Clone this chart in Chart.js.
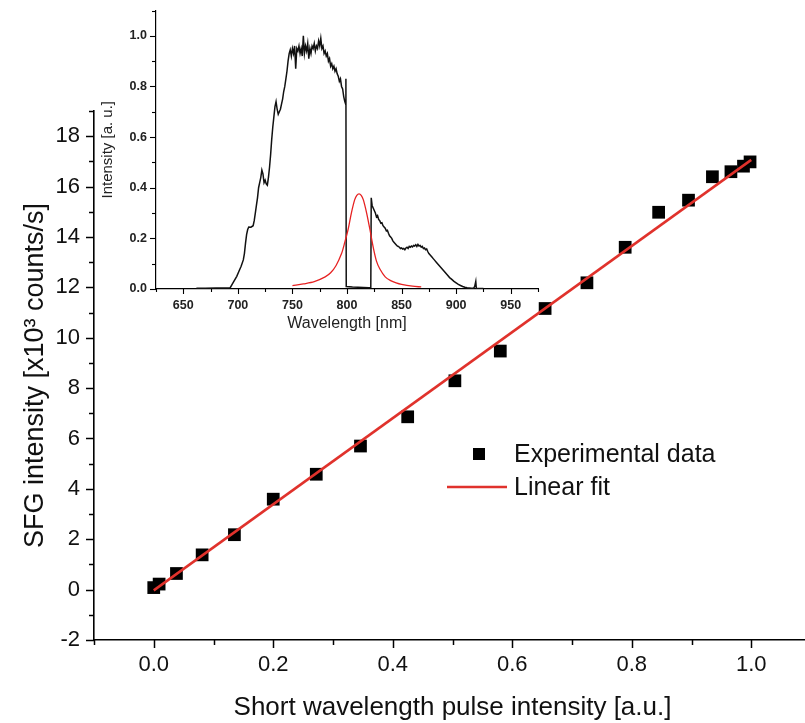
<!DOCTYPE html>
<html>
<head>
<meta charset="utf-8">
<script src="https://cdn.jsdelivr.net/npm/chart.js@4.4.0/dist/chart.umd.min.js"></script>
<style>
  html, body { margin: 0; padding: 0; background: #fff; overflow: hidden; }
  #wrap { position: relative; width: 805px; height: 723px; overflow: hidden; }
  #main, #inset { position: absolute; left: 0; top: 0; }
</style>
</head>
<body>
<div id="wrap">
  <canvas id="main" width="820" height="723"></canvas>
  <canvas id="inset" width="560" height="340"></canvas>
</div>
<script>
// main plot: SFG signal vs short wavelength pulse intensity
const pulseIntensity = [0, 0.009, 0.038, 0.081, 0.135, 0.2, 0.272, 0.346, 0.425, 0.504,
  0.58, 0.655, 0.725, 0.789, 0.845, 0.895, 0.935, 0.966, 0.987, 0.998];
const sfgCounts = [0.08, 0.22, 0.64, 1.38, 2.18, 3.59, 4.58, 5.7, 6.86, 8.29,
  9.47, 11.16, 12.18, 13.59, 14.98, 15.46, 16.39, 16.59, 16.81, 16.98];
const fitX = [0, 1.0];
const fitY = [-0.03, 17.06];

// inset: spectrum [wavelength nm, intensity a.u.]
const spectrum = [
  [662, 0.003], [670, 0.003], [680, 0.004], [690, 0.004], [693, 0.005], [695, 0.02],
  [697, 0.035], [699, 0.05], [701, 0.07], [703, 0.09], [705, 0.115], [706, 0.14],
  [707, 0.18], [708, 0.215], [709, 0.235], [710, 0.245], [712, 0.244], [714, 0.25],
  [715, 0.27], [716, 0.3], [717, 0.33], [718, 0.36], [719, 0.4], [720, 0.42],
  [721, 0.44], [722, 0.47], [723, 0.455], [724, 0.42], [725, 0.43], [726, 0.415],
  [727, 0.41], [728, 0.44], [729, 0.48], [730, 0.53], [731, 0.59], [732, 0.64],
  [733, 0.68], [734, 0.72], [735, 0.74], [736, 0.71], [737, 0.69], [738, 0.7],
  [739, 0.71], [740, 0.73], [741, 0.75], [742, 0.78], [743, 0.8], [744, 0.83],
  [745, 0.86], [746, 0.9], [747, 0.93], [748, 0.945], [749, 0.92], [750, 0.95],
  [751, 0.93], [752, 0.96], [753, 0.87], [754, 0.95], [755, 0.94], [756, 0.96],
  [757, 0.93], [758, 0.95], [759, 0.92], [760, 1.0], [761, 0.93], [762, 0.96],
  [763, 0.94], [764, 0.97], [765, 0.91], [766, 0.95], [767, 0.93], [768, 0.96],
  [769, 0.95], [770, 0.97], [771, 0.94], [772, 0.96], [773, 0.95], [774, 0.98],
  [775, 0.96], [776, 0.99], [777, 0.95], [778, 0.96], [779, 0.93], [780, 0.94],
  [781, 0.92], [782, 0.93], [783, 0.9], [784, 0.91], [785, 0.88], [786, 0.89],
  [787, 0.87], [788, 0.88], [789, 0.86], [790, 0.87], [791, 0.85], [792, 0.84],
  [793, 0.82], [794, 0.83], [795, 0.8], [796, 0.79], [797, 0.76], [798, 0.74],
  [798.8, 0.73], [799, 0.83], [799.3, 0.01], [805, 0.008], [810, 0.007], [815, 0.006],
  [820, 0.005], [821.8, 0.005], [822.2, 0.36], [823, 0.33], [824, 0.32], [825, 0.31],
  [826, 0.3], [827, 0.285], [828, 0.29], [829, 0.275], [830, 0.27], [831, 0.26],
  [832, 0.262], [833, 0.25], [834, 0.245], [835, 0.24], [836, 0.23], [837, 0.232],
  [838, 0.22], [839, 0.21], [840, 0.205], [841, 0.2], [842, 0.19], [843, 0.185],
  [844, 0.18], [845, 0.175], [846, 0.17], [847, 0.168], [848, 0.165], [849, 0.16],
  [850, 0.162], [851, 0.158], [852, 0.16], [853, 0.155], [854, 0.162], [855, 0.165],
  [856, 0.16], [857, 0.168], [858, 0.165], [859, 0.17], [860, 0.166], [861, 0.172],
  [862, 0.17], [863, 0.175], [864, 0.168], [865, 0.176], [866, 0.17], [867, 0.172],
  [868, 0.165], [869, 0.168], [870, 0.16], [871, 0.162], [872, 0.155], [873, 0.158],
  [874, 0.148], [875, 0.14], [876, 0.135], [877, 0.13], [878, 0.125], [879, 0.12],
  [880, 0.115], [882, 0.105], [884, 0.095], [886, 0.085], [888, 0.075], [890, 0.065],
  [892, 0.055], [894, 0.045], [896, 0.038], [898, 0.03], [900, 0.024], [902, 0.018],
  [904, 0.014], [906, 0.01], [908, 0.007], [910, 0.005], [912, 0.004], [914, 0.003],
  [916, 0.003], [917, 0.01], [918, 0.03], [918.5, 0.003], [920, 0.002], [925, 0.002]
];

// inset: red short wavelength pulse spectrum
const pulseWl = [750, 760, 770, 780, 785, 790, 795, 798, 801, 804, 807, 809, 811,
  813, 815, 818, 821, 824, 827, 830, 835, 840, 845, 850, 860, 868];
const pulseInt = [0.013, 0.02, 0.029, 0.048, 0.064, 0.093, 0.14, 0.185, 0.235, 0.3, 0.352, 0.37, 0.376,
  0.37, 0.352, 0.3, 0.235, 0.165, 0.11, 0.08, 0.048, 0.033, 0.024, 0.018, 0.011, 0.008];

const FONT = "'Liberation Sans', Arial, sans-serif";

// draws major/minor tick marks outside the axes
const tickMarks = (cfg) => ({
  id: "tickMarks",
  afterDraw(chart) {
    const ctx = chart.ctx;
    ctx.save();
    ctx.strokeStyle = "#000";
    ctx.lineWidth = cfg.width;
    ["x", "y"].forEach((id) => {
      const scale = chart.scales[id];
      const c = cfg[id];
      scale.ticks.forEach((t) => {
        const major = Math.round(t.value / c.step) % c.every === 0;
        const len = major ? c.major : c.minor;
        const p = Math.round(scale.getPixelForValue(t.value)) + 0.5;
        ctx.beginPath();
        if (id === "x") {
          ctx.moveTo(p, chart.chartArea.bottom);
          ctx.lineTo(p, chart.chartArea.bottom + len);
        } else {
          ctx.moveTo(chart.chartArea.left, p);
          ctx.lineTo(chart.chartArea.left - len, p);
        }
        ctx.stroke();
      });
    });
    ctx.restore();
  },
});

const legendBox = {
  id: "legendBox",
  afterDraw(chart) {
    const ctx = chart.ctx;
    ctx.save();
    ctx.fillStyle = "#000";
    ctx.fillRect(473, 448, 12, 12);
    ctx.strokeStyle = "#e0322c";
    ctx.lineWidth = 2.5;
    ctx.beginPath();
    ctx.moveTo(447, 487);
    ctx.lineTo(507, 487);
    ctx.stroke();
    ctx.font = "25px " + FONT;
    ctx.textBaseline = "middle";
    ctx.fillStyle = "#111";
    ctx.fillText("Experimental data", 514, 455);
    ctx.fillText("Linear fit", 514, 488);
    ctx.restore();
  },
};

new Chart(document.getElementById("main"), {
  type: "scatter",
  data: {
    datasets: [
      {
        label: "Linear fit",
        data: fitX.map((x, i) => ({ x, y: fitY[i] })),
        showLine: true,
        borderColor: "#e0322c",
        borderWidth: 2.5,
        pointRadius: 0,
      },
      {
        label: "Experimental data",
        data: pulseIntensity.map((x, i) => ({ x, y: sfgCounts[i] })),
        pointStyle: "rect",
        pointRadius: 9,
        backgroundColor: "#000",
        borderWidth: 0,
      },
    ],
  },
  options: {
    responsive: false,
    animation: false,
    layout: { padding: { top: 111, right: 8, left: 0, bottom: 0 } },
    scales: {
      x: {
        type: "linear",
        min: -0.1,
        max: 1.1,
        afterFit: (s) => { s.height = 83; },
        border: { color: "#000", width: 1.6 },
        grid: { drawOnChartArea: false, tickLength: 8, tickColor: "transparent" },
        ticks: {
          stepSize: 0.1,
          padding: 4,
          color: "#111",
          font: { family: FONT, size: 22 },
          maxRotation: 0,
          autoSkip: false,
          callback: (v) => (Math.round(v * 10) % 2 === 0 ? (Math.round(v * 10) / 10).toFixed(1) : ""),
        },
        title: {
          display: true,
          text: "Short wavelength pulse intensity [a.u.]",
          color: "#111",
          font: { family: FONT, size: 26 },
          padding: { top: 0, bottom: 0 },
        },
      },
      y: {
        min: -2,
        max: 19,
        afterFit: (s) => { s.width = 94; },
        border: { color: "#000", width: 1.6 },
        grid: { drawOnChartArea: false, tickLength: 8, tickColor: "transparent" },
        ticks: {
          stepSize: 1,
          padding: 6,
          color: "#111",
          font: { family: FONT, size: 22 },
          autoSkip: false,
          callback: (v) => (v % 2 === 0 ? String(v) : ""),
        },
        title: {
          display: true,
          text: "SFG intensity [x10³ counts/s]",
          color: "#111",
          font: { family: FONT, size: 27 },
          padding: { top: 19, bottom: 0 },
        },
      },
    },
    plugins: {
      legend: { display: false },
      tooltip: { enabled: false },
    },
  },
  plugins: [
    tickMarks({ width: 1.5, x: { step: 0.1, every: 2, major: 8, minor: 5 }, y: { step: 1, every: 2, major: 8, minor: 5 } }),
    legendBox,
  ],
});

new Chart(document.getElementById("inset"), {
  type: "scatter",
  data: {
    datasets: [
      {
        data: pulseWl.map((x, i) => ({ x, y: pulseInt[i] })),
        showLine: true,
        borderColor: "#e62222",
        borderWidth: 1.3,
        pointRadius: 0,
        tension: 0.3,
      },
      {
        data: spectrum.map((p) => ({ x: p[0], y: p[1] })),
        showLine: true,
        borderColor: "#111",
        borderWidth: 1.5,
        pointRadius: 0,
      },
    ],
  },
  options: {
    responsive: false,
    animation: false,
    layout: { padding: { top: 8, right: 22, left: 0, bottom: 0 } },
    scales: {
      x: {
        type: "linear",
        min: 625,
        max: 975,
        afterFit: (s) => { s.height = 51; },
        border: { color: "#000", width: 1.2 },
        grid: { drawOnChartArea: false, tickLength: 5, tickColor: "transparent" },
        ticks: {
          stepSize: 25,
          padding: 4,
          color: "#222",
          font: { family: FONT, size: 12.5, weight: "bold" },
          maxRotation: 0,
          autoSkip: false,
          callback: (v) => (v % 50 === 0 ? String(v) : ""),
        },
        title: {
          display: true,
          text: "Wavelength [nm]",
          color: "#222",
          font: { family: FONT, size: 16 },
          padding: { top: 0, bottom: 7 },
        },
      },
      y: {
        min: 0,
        max: 1.1,
        afterFit: (s) => { s.width = 156; },
        border: { color: "#000", width: 1.2 },
        grid: { drawOnChartArea: false, tickLength: 6, tickColor: "transparent" },
        ticks: {
          stepSize: 0.1,
          padding: 3,
          color: "#222",
          font: { family: FONT, size: 12.5, weight: "bold" },
          autoSkip: false,
          callback: (v) => (Math.round(v * 10) % 2 === 0 ? (Math.round(v * 10) / 10).toFixed(1) : ""),
        },
        title: {
          display: true,
          text: "Intensity [a. u.]",
          color: "#222",
          font: { family: FONT, size: 15 },
          padding: { top: 99, bottom: 0 },
        },
      },
    },
    plugins: {
      legend: { display: false },
      tooltip: { enabled: false },
    },
  },
  plugins: [
    tickMarks({ width: 1.1, x: { step: 25, every: 2, major: 5, minor: 3 }, y: { step: 0.1, every: 2, major: 6, minor: 4 } }),
  ],
});
</script>
</body>
</html>
